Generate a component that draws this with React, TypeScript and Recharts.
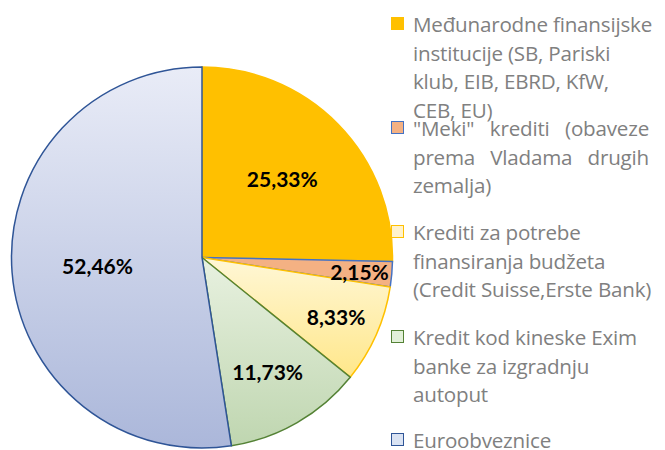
import React from "react";
import { PieChart, Pie, Cell, Legend } from "recharts";

const categories = [
  "Međunarodne finansijske institucije (SB, Pariski klub, EIB, EBRD, KfW, CEB, EU)",
  "\"Meki\" krediti (obaveze prema Vladama drugih zemalja)",
  "Krediti za potrebe finansiranja budžeta (Credit Suisse,Erste Bank)",
  "Kredit kod kineske Exim banke za izgradnju autoput",
  "Euroobveznice",
];
const shares = [25.33, 2.15, 8.33, 11.73, 52.46];

const fills = ["#FFC000", "#F4B183", "url(#gYellow)", "url(#gGreen)", "url(#gBlue)"];
const swatchFills = ["#FFC000", "#F4B183", "#FFF2CC", "#E2F0D9", "#DAE3F3"];
const strokes = ["#FFC000", "#4472C4", "#FFC000", "#548235", "#2F5597"];
const labelRadiusFactor = [0.59, 0.83, 0.77, 0.69, 0.55];
const legendTops = [24, 128, 232, 337, 440];
const legendTextWidths = [242, 236, 254, 254, 254];
const justifyItem = [false, true, false, false, false];

const data = categories.map((name, i) => ({ name, value: shares[i] }));

const RAD = Math.PI / 180;

const renderLabel = (props: any) => {
  const { cx, cy, midAngle, outerRadius, index, value } = props;
  const r = outerRadius * labelRadiusFactor[index];
  const x = cx + r * Math.cos(-midAngle * RAD);
  const y = cy + r * Math.sin(-midAngle * RAD);
  return (
    <text
      x={x}
      y={y}
      textAnchor="middle"
      dominantBaseline="central"
      fill="#000000"
      fontFamily="Lato, 'Open Sans', sans-serif"
      fontWeight={700}
      fontSize={21}
    >
      {value.toFixed(2).replace(".", ",") + "%"}
    </text>
  );
};

const renderLegend = () => (
  <div style={{ position: "relative", width: 275, height: 450 }}>
    {categories.map((name, i) => (
      <div key={name} style={{ position: "absolute", left: 0, top: legendTops[i] - 14, width: 275 }}>
        <div
          style={{
            position: "absolute",
            left: 0,
            top: 7,
            width: 11,
            height: 11,
            background: swatchFills[i],
            border: `1.5px solid ${strokes[i]}`,
          }}
        />
        <div
          style={{
            position: "absolute",
            left: 22,
            top: 0,
            width: legendTextWidths[i],
            fontFamily: "'Open Sans', sans-serif",
            fontSize: 20.6,
            letterSpacing: -0.2,
            lineHeight: "28.5px",
            color: "#808080",
            textAlign: justifyItem[i] ? "justify" : "left",
          }}
        >
          {name}
        </div>
      </div>
    ))}
  </div>
);

export default function App() {
  return (
    <div style={{ position: "absolute", left: 0, top: 0, width: 665, height: 450, background: "#fff", overflow: "hidden" }}>
      <PieChart width={665} height={450} margin={{ top: 0, right: 0, bottom: 0, left: 0 }}>
        <defs>
          <linearGradient id="gYellow" x1="0" y1="0" x2="0" y2="1">
            <stop offset="0%" stopColor="#FFF7D6" />
            <stop offset="100%" stopColor="#FFE78A" />
          </linearGradient>
          <linearGradient id="gGreen" x1="0" y1="0" x2="0" y2="1">
            <stop offset="0%" stopColor="#E8F1E0" />
            <stop offset="100%" stopColor="#BFD6B0" />
          </linearGradient>
          <linearGradient id="gBlue" x1="0" y1="0" x2="0" y2="1">
            <stop offset="0%" stopColor="#E9ECF7" />
            <stop offset="100%" stopColor="#ABB7DA" />
          </linearGradient>
        </defs>
        <Pie
          data={data}
          dataKey="value"
          nameKey="name"
          cx={202}
          cy={257.5}
          outerRadius={190.5}
          startAngle={90}
          endAngle={-270}
          isAnimationActive={false}
          label={renderLabel}
          labelLine={false}
        >
          {data.map((d, i) => (
            <Cell key={d.name} fill={fills[i]} stroke={strokes[i]} strokeWidth={1.5} />
          ))}
        </Pie>
        <Legend
          content={renderLegend}
          wrapperStyle={{ position: "absolute", left: 391, top: 0, width: 275, height: 450 }}
        />
      </PieChart>
    </div>
  );
}
